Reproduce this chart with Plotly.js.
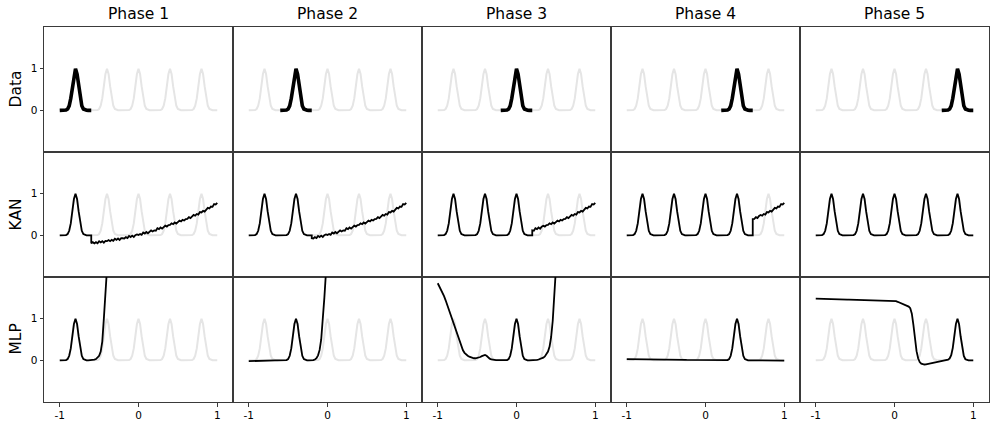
<!DOCTYPE html>
<html>
<head>
<meta charset="utf-8">
<script src="https://cdn.plot.ly/plotly-3.0.1.min.js"></script>
<style>
  html, body { margin: 0; padding: 0; background: #fff; }
  #main-screen { width: 997px; height: 430px; }
</style>
</head>
<body>
<div id="main-screen"></div>
<script>
// ------------------------------------------------------------------------------
// DATA

const phases   = ['Phase 1', 'Phase 2', 'Phase 3', 'Phase 4', 'Phase 5'];
const rowNames = ['Data', 'KAN', 'MLP'];
const xTicks   = [-1, 0, 1];
const xTickText = ['-1', '0', '1'];
const yTicks   = [0, 1];

// sample grid, x = -1 .. 1
const xs = [
    -1.00, -0.98, -0.96, -0.94, -0.92, -0.90, -0.88, -0.86, -0.84, -0.82,
    -0.80, -0.78, -0.76, -0.74, -0.72, -0.70, -0.68, -0.66, -0.64, -0.62,
    -0.60, -0.58, -0.56, -0.54, -0.52, -0.50, -0.48, -0.46, -0.44, -0.42,
    -0.40, -0.38, -0.36, -0.34, -0.32, -0.30, -0.28, -0.26, -0.24, -0.22,
    -0.20, -0.18, -0.16, -0.14, -0.12, -0.10, -0.08, -0.06, -0.04, -0.02,
     0.00,  0.02,  0.04,  0.06,  0.08,  0.10,  0.12,  0.14,  0.16,  0.18,
     0.20,  0.22,  0.24,  0.26,  0.28,  0.30,  0.32,  0.34,  0.36,  0.38,
     0.40,  0.42,  0.44,  0.46,  0.48,  0.50,  0.52,  0.54,  0.56,  0.58,
     0.60,  0.62,  0.64,  0.66,  0.68,  0.70,  0.72,  0.74,  0.76,  0.78,
     0.80,  0.82,  0.84,  0.86,  0.88,  0.90,  0.92,  0.94,  0.96,  0.98,
     1.00
];

// five peaks at -0.8, -0.4, 0, 0.4, 0.8
const target = [
    0, 0, 0, 0.001, 0.007, 0.031, 0.109, 0.287, 0.575, 0.871,
    1, 0.871, 0.575, 0.287, 0.109, 0.031, 0.007, 0.001, 0, 0,
    0, 0, 0, 0.001, 0.007, 0.031, 0.109, 0.287, 0.575, 0.871,
    1, 0.871, 0.575, 0.287, 0.109, 0.031, 0.007, 0.001, 0, 0,
    0, 0, 0, 0.001, 0.007, 0.031, 0.109, 0.287, 0.575, 0.871,
    1, 0.871, 0.575, 0.287, 0.109, 0.031, 0.007, 0.001, 0, 0,
    0, 0, 0, 0.001, 0.007, 0.031, 0.109, 0.287, 0.575, 0.871,
    1, 0.871, 0.575, 0.287, 0.109, 0.031, 0.007, 0.001, 0, 0,
    0, 0, 0, 0.001, 0.007, 0.031, 0.109, 0.287, 0.575, 0.871,
    1, 0.871, 0.575, 0.287, 0.109, 0.031, 0.007, 0.001, 0, 0,
    0
];

// KAN prediction on the not-yet-seen region, x = -0.6 .. 1
const kanTail = [
    -0.19,
    -0.165, -0.195, -0.165, -0.19, -0.14, -0.17, -0.14, -0.175, -0.135, -0.14,
    -0.113, -0.141, -0.109, -0.132, -0.08, -0.108, -0.076, -0.109, -0.067, -0.07,
    -0.077, -0.044, -0.066, -0.013, -0.04, -0.007, -0.039, 0.004, 0.022, 0.01,
    0.031, 0.012, 0.068, 0.044, 0.08, 0.051, 0.097, 0.118, 0.094, 0.12,
    0.113, 0.171, 0.149, 0.187, 0.16, 0.208, 0.231, 0.209, 0.247, 0.25,
    0.289, 0.268, 0.307, 0.281, 0.33, 0.354, 0.333, 0.372, 0.356, 0.39,
    0.396, 0.437, 0.413, 0.464, 0.49, 0.471, 0.512, 0.498, 0.559, 0.55,
    0.587, 0.569, 0.626, 0.658, 0.645, 0.692, 0.684, 0.751, 0.738, 0.78
];

// MLP predictions after each phase (from x = -1, until leaving the view)
const mlp1 = [
    0, 0, 0, 0.001, 0.007, 0.031, 0.109, 0.287, 0.575, 0.871,
    1, 0.871, 0.575, 0.287, 0.109, 0.031, 0.007, 0.001, 0, 0,
    0, 0.005, 0.015, 0.03, 0.06, 0.11, 0.21, 0.45, 1.0, 1.6,
    2.2, 2.8
];
const mlp2 = [
    -0.02, -0.02, -0.019, -0.018, -0.017, -0.016, -0.015, -0.014, -0.012, -0.011,
    -0.01, -0.009, -0.008, -0.006, -0.005, -0.004, -0.003, -0.002, -0.001, 0,
    0, 0, 0, 0.001, 0.007, 0.031, 0.109, 0.287, 0.575, 0.871,
    1, 0.871, 0.575, 0.287, 0.109, 0.031, 0.007, 0.001, 0, 0,
    0, 0.005, 0.02, 0.05, 0.12, 0.25, 0.5, 0.95, 1.5, 2.1,
    2.8
];
const mlp3 = [
    1.85, 1.78, 1.70, 1.62, 1.54, 1.44, 1.33, 1.22, 1.11, 1.00,
    0.90, 0.78, 0.66, 0.54, 0.43, 0.33, 0.24, 0.18, 0.14, 0.11,
    0.09, 0.07, 0.06, 0.05, 0.05, 0.06, 0.06, 0.08, 0.10, 0.12,
    0.13, 0.11, 0.07, 0.04, 0.02, 0.01, 0.01, 0.005, 0.003, 0.002,
    0, 0, 0, 0.001, 0.007, 0.031, 0.109, 0.287, 0.575, 0.871,
    1, 0.871, 0.575, 0.287, 0.109, 0.031, 0.007, 0.001, 0, 0,
    0, 0.003, 0.006, 0.01, 0.02, 0.03, 0.045, 0.065, 0.095, 0.14,
    0.21, 0.33, 0.56, 0.95, 1.5, 2.1, 2.8
];
const mlp4 = [
    0.03, 0.03, 0.029, 0.029, 0.028, 0.028, 0.027, 0.027, 0.026, 0.026,
    0.025, 0.025, 0.024, 0.024, 0.023, 0.023, 0.022, 0.022, 0.021, 0.021,
    0.02, 0.02, 0.019, 0.019, 0.018, 0.018, 0.017, 0.017, 0.016, 0.016,
    0.015, 0.015, 0.014, 0.014, 0.013, 0.013, 0.012, 0.012, 0.011, 0.011,
    0.01, 0.01, 0.009, 0.009, 0.008, 0.008, 0.007, 0.007, 0.006, 0.006,
    0.005, 0.005, 0.004, 0.004, 0.003, 0.003, 0.002, 0.002, 0.001, 0.001,
    0, 0, 0, 0.001, 0.007, 0.031, 0.109, 0.287, 0.575, 0.871,
    1, 0.871, 0.575, 0.287, 0.109, 0.031, 0.007, 0.001, 0, 0,
    0, -0.001, -0.002, -0.002, -0.003, -0.003, -0.003, -0.004, -0.004, -0.004,
    -0.004, -0.005, -0.005, -0.005, -0.005, -0.005, -0.006, -0.006, -0.006, -0.006,
    -0.006
];
const mlp5 = [
    1.48, 1.478, 1.476, 1.474, 1.472, 1.47, 1.468, 1.467, 1.466, 1.465,
    1.464, 1.463, 1.462, 1.462, 1.461, 1.461, 1.46, 1.46, 1.459, 1.459,
    1.458, 1.458, 1.457, 1.456, 1.455, 1.455, 1.456, 1.457, 1.456, 1.454,
    1.452, 1.451, 1.45, 1.449, 1.448, 1.448, 1.447, 1.446, 1.445, 1.445,
    1.444, 1.443, 1.442, 1.441, 1.44, 1.439, 1.438, 1.437, 1.436, 1.434,
    1.43, 1.42, 1.405, 1.39, 1.375, 1.36, 1.345, 1.33, 1.31, 1.29,
    1.25, 1.12, 0.85, 0.5, 0.22, 0.05, -0.04, -0.08, -0.1, -0.1,
    -0.095, -0.088, -0.08, -0.074, -0.068, -0.06, -0.052, -0.044, -0.036, -0.028,
    -0.02, -0.012, -0.005, 0.003, 0.015, 0.045, 0.125, 0.3, 0.585, 0.876,
    1, 0.87, 0.572, 0.283, 0.104, 0.026, 0.003, -0.002, -0.003, -0.003,
    -0.003
];
const mlpRuns = [mlp1, mlp2, mlp3, mlp4, mlp5];

// ------------------------------------------------------------------------------
// LAYOUT

const W = 997, H = 430;
const colEdges = [44, 233, 422, 611, 800, 989];   // px
const rowEdges = [27, 152, 277, 402];             // px from top
const font_family = '"DejaVu Sans", Verdana, sans-serif';
const grey  = '#e5e5e5';
const frame = '#3a3a3a';

const layout = {
    width: W,
    height: H,
    margin: { l: 0, r: 0, t: 0, b: 0, pad: 0 },
    paper_bgcolor: '#ffffff',
    plot_bgcolor: '#ffffff',
    showlegend: false,
    font: { family: font_family, color: '#000', size: 11 },
    annotations: []
};

function axisId(r, c) {
    const n = r * 5 + c + 1;
    return n === 1 ? '' : String(n);
}

for (let r = 0; r < 3; r++) {
    for (let c = 0; c < 5; c++) {
        const id = axisId(r, c);
        layout['xaxis' + id] = {
            domain: [colEdges[c] / W, colEdges[c + 1] / W],
            anchor: 'y' + id,
            range: [-1.2, 1.2],
            fixedrange: true,
            showgrid: false,
            zeroline: false,
            showline: true,
            mirror: true,
            linecolor: frame,
            linewidth: 1,
            tickmode: 'array',
            tickvals: xTicks,
            ticktext: xTickText,
            ticks: r === 2 ? 'outside' : '',
            ticklen: 3.5,
            tickwidth: 1,
            tickcolor: frame,
            showticklabels: r === 2,
            tickfont: { family: font_family, size: 10.5, color: '#000' }
        };
        layout['yaxis' + id] = {
            domain: [1 - rowEdges[r + 1] / H, 1 - rowEdges[r] / H],
            anchor: 'x' + id,
            range: [-1, 2],
            fixedrange: true,
            showgrid: false,
            zeroline: false,
            showline: true,
            mirror: true,
            linecolor: frame,
            linewidth: 1,
            tickmode: 'array',
            tickvals: yTicks,
            ticks: c === 0 ? 'outside' : '',
            ticklen: 3.5,
            tickwidth: 1,
            tickcolor: frame,
            showticklabels: c === 0,
            tickfont: { family: font_family, size: 10.5, color: '#000' }
        };
    }
}

phases.forEach((name, c) => {
    layout.annotations.push({
        text: name,
        xref: 'paper', yref: 'paper',
        x: (colEdges[c] + colEdges[c + 1]) / 2 / W,
        y: 1 - 14 / H,
        xanchor: 'center', yanchor: 'middle',
        showarrow: false,
        font: { family: font_family, size: 15.5, color: '#000' }
    });
});

rowNames.forEach((name, r) => {
    layout.annotations.push({
        text: name,
        xref: 'paper', yref: 'paper',
        x: 15 / W,
        y: 1 - (rowEdges[r] + rowEdges[r + 1]) / 2 / H,
        xanchor: 'center', yanchor: 'middle',
        textangle: -90,
        showarrow: false,
        font: { family: font_family, size: 15.5, color: '#000' }
    });
});

// ------------------------------------------------------------------------------
// TRACES

const traces = [];

function addLine(r, c, x, y, color, width) {
    const id = axisId(r, c);
    traces.push({
        x: x, y: y,
        xaxis: 'x' + id, yaxis: 'y' + id,
        type: 'scatter', mode: 'lines',
        line: { color: color, width: width },
        hoverinfo: 'none'
    });
}

for (let c = 0; c < 5; c++) {
    for (let r = 0; r < 3; r++) {
        addLine(r, c, xs, target, grey, 2);
    }

    // Data row: the slice seen in this phase
    const a = 20 * c, b = 20 * (c + 1) + 1;
    addLine(0, c, xs.slice(a, b), target.slice(a, b), '#000', 3.6);

    // KAN row
    if (c < 4) {
        const s = 20 * (c + 1);
        const kx = xs.slice(0, s + 1).concat(xs.slice(s));
        const ky = target.slice(0, s + 1).concat(kanTail.slice(s - 20));
        addLine(1, c, kx, ky, '#000', 1.8);
    } else {
        addLine(1, c, xs, target, '#000', 1.8);
    }

    // MLP row
    const m = mlpRuns[c];
    addLine(2, c, xs.slice(0, m.length), m, '#000', 1.8);
}

Plotly.newPlot('main-screen', traces, layout, { displayModeBar: false, staticPlot: true });
</script>
</body>
</html>
